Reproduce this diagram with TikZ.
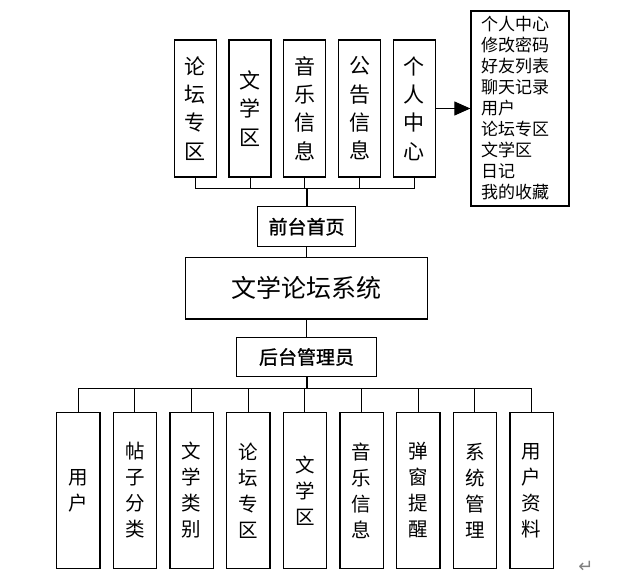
\documentclass[tikz,border=0pt]{standalone}
\usepackage{fontspec}
\setmainfont{Noto Sans CJK SC}
\newfontfamily\medfont{Noto Sans CJK SC}[FakeBold=1.2]
\newfontfamily\symfont{DejaVu Sans}
\usepackage{tikz}
\usetikzlibrary{arrows.meta}

\begin{document}
\begin{tikzpicture}[x=1pt,y=-1pt,
	box/.style={draw,line width=1.3pt,inner sep=0pt,align=center},
	front/.style={box,minimum width=42pt,minimum height=137pt,font=\fontsize{21}{28.3}\selectfont},
	back/.style={box,minimum width=43.3pt,minimum height=155.6pt,font=\fontsize{19.5}{26}\selectfont},
	link/.style={line width=1pt}]
	\useasboundingbox (0,0) rectangle (621,578);
	%
	\foreach \t [count=\i] in {论\\坛\\专\\区,文\\学\\区,音\\乐\\信\\息,公\\告\\信\\息,个\\人\\中\\心}
		\node[front] (F\i) at ({195.2+(\i-1)*54.8},108.5) {\t};
	\node[box,minimum width=98pt,minimum height=195pt,text width=78pt,align=left,font=\fontsize{17}{21}\selectfont] (L) at (520,108.5)
		{个人中心\\修改密码\\好友列表\\聊天记录\\用户\\论坛专区\\文学区\\日记\\我的收藏};
	\node[box,minimum width=98.4pt,minimum height=40pt,font=\medfont\fontsize{19}{23}\selectfont] (Q) at (306.5,226.7) {前台首页};
	\node[box,minimum width=241.7pt,minimum height=61.7pt,font=\fontsize{25}{30}\selectfont] (H) at (306.5,288.2) {文学论坛系统};
	\node[box,minimum width=140pt,minimum height=39.4pt,font=\medfont\fontsize{19}{23}\selectfont] (G) at (306.5,357) {后台管理员};
	\foreach \t [count=\i] in {用\\户,帖\\子\\分\\类,文\\学\\类\\别,论\\坛\\专\\区,文\\学\\区,音\\乐\\信\\息,弹\\窗\\提\\醒,系\\统\\管\\理,用\\户\\资\\料}
		\node[back] (B\i) at ({78.3+(\i-1)*56.67},490.5) {\t};
	\node[text=gray,inner sep=0pt,anchor=base,font=\symfont\fontsize{18}{18}\selectfont] (R) at (586,572) {↵};
	%
	\coordinate (fb) at (306.5,188);
	\coordinate (bb) at (306.5,388.3);
	\foreach \i in {1,...,5}
		\draw[link] (F\i.south) |- (fb);
	\draw[line width=2pt] (Q.north) -- (fb);
	\draw[link] (Q.south) -- (H.north);
	\draw[link] (H.south) -- (G.north);
	\draw[line width=2pt] (G.south) -- (bb);
	\foreach \i in {1,...,9}
		\draw[link] (B\i.north) |- (bb);
	\draw[link,-{Triangle[length=16pt,width=14pt]}] (F5.east) -- (L.west);
\end{tikzpicture}
\end{document}
